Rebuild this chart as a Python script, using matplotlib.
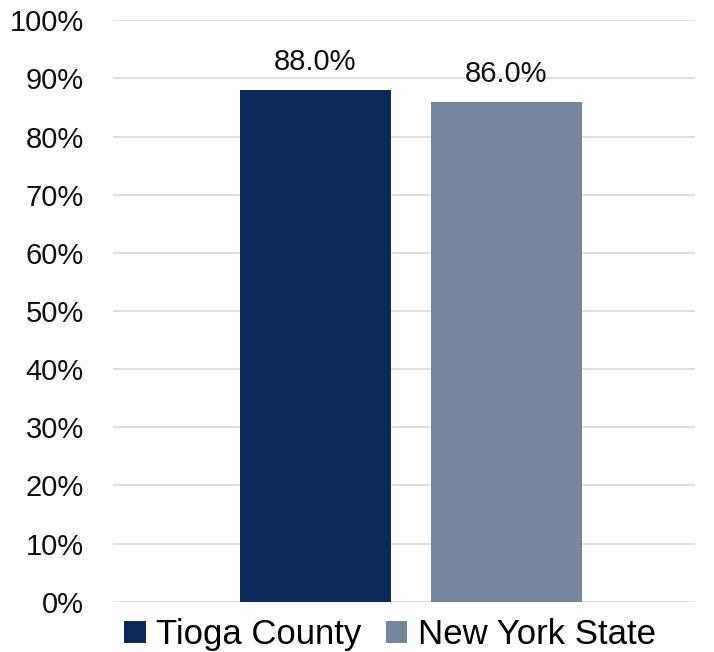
import matplotlib
matplotlib.use("Agg")
import matplotlib.pyplot as plt
from matplotlib.ticker import FuncFormatter

# Data
series = ["Tioga County", "New York State"]
values = [88.0, 86.0]
colors = ["#0b2a5c", "#76869c"]
yticks = list(range(0, 101, 10))

plt.rcParams['font.family'] = ['Liberation Sans', 'DejaVu Sans']

fig = plt.figure(figsize=(7.14, 6.52), dpi=100)
ax = fig.add_axes([0.158, 0.077, 0.815, 0.892])

width = 0.2595
offsets = [-0.152, 0.176]
bars = []
for off, v, c, name in zip(offsets, values, colors, series):
    b = ax.bar(off, v, width=width, color=c, label=name, zorder=3)
    bars.append(b)
    ax.annotate(f"{v:.1f}%", xy=(off, v), xytext=(0, 10), textcoords="offset points",
                ha='center', va='bottom', fontsize=21, color='#111111')

ax.set_xlim(-0.5, 0.5)
ax.set_ylim(0, 100)
ax.set_yticks(yticks)
ax.yaxis.set_major_formatter(FuncFormatter(lambda v, p: f"{v:.0f}%"))
ax.tick_params(axis='y', length=0, pad=21, labelsize=21, labelcolor='#111111')
ax.set_xticks([])
ax.grid(axis='y', color='#d9d9d9', linewidth=1.2, zorder=0)
for s in ax.spines.values():
    s.set_visible(False)

leg = fig.legend(handles=[b[0] for b in bars], labels=series, loc='lower center',
                 bbox_to_anchor=(0.546, -0.047), ncol=2, frameon=False,
                 prop={'size': 25},
                 handlelength=0.62, handleheight=0.62, handletextpad=0.3, columnspacing=0.7)

fig.savefig("out.png", dpi=100)
